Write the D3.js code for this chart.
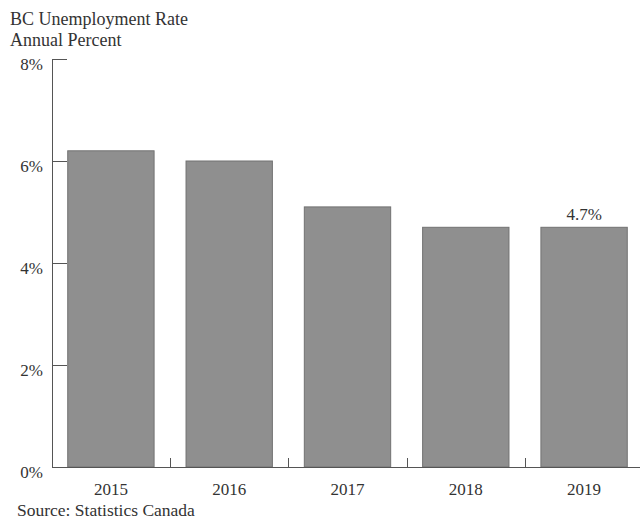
<!DOCTYPE html>
<html>
<head>
<meta charset="utf-8">
<script src="https://cdn.jsdelivr.net/npm/d3@7"></script>
<style>
  body { margin: 0; background: #fff; }
</style>
</head>
<body>
<div id="chart"></div>
<script>
// data
var years = ["2015", "2016", "2017", "2018", "2019"];
var rates = [6.2, 6.0, 5.1, 4.7, 4.7];
var yTicks = [0, 2, 4, 6, 8];
var labelled = ["2019"];

var W = 640, H = 519;
var FONT = "'Liberation Serif', 'Times New Roman', 'DejaVu Serif', serif";

var svg = d3.select("#chart").append("svg")
    .attr("width", W)
    .attr("height", H)
    .attr("font-family", FONT)
    .style("font-family", FONT);

var x = d3.scaleBand()
    .domain(years)
    .range([52, 643])
    .paddingInner(0.27)
    .paddingOuter(0.133);

var y = d3.scaleLinear()
    .domain([0, 8])
    .range([467, 59]);

function label(sel) {
    return sel.attr("font-family", FONT).style("font-family", FONT).attr("fill", "#333");
}

// title
label(svg.append("text")).attr("x", 10).attr("y", 25)
    .style("font-size", "18px").text("BC Unemployment Rate");
label(svg.append("text")).attr("x", 10).attr("y", 46)
    .style("font-size", "18px").text("Annual Percent");

// bars
var data = years.map(function (d, i) { return { year: d, v: rates[i] }; });
svg.selectAll("rect.bar").data(data).enter().append("rect")
    .attr("class", "bar")
    .attr("x", function (d) { return x(d.year); })
    .attr("y", function (d) { return y(d.v); })
    .attr("width", x.bandwidth())
    .attr("height", function (d) { return y(0) - y(d.v); })
    .attr("fill", "#8f8f8f")
    .attr("stroke", "#727272")
    .attr("stroke-width", 1);

// value label
label(svg.selectAll("text.val").data(data.filter(function (d) { return labelled.indexOf(d.year) >= 0; }))
    .enter().append("text"))
    .attr("class", "val")
    .attr("x", function (d) { return x(d.year) + x.bandwidth() / 2; })
    .attr("y", function (d) { return y(d.v) - 7; })
    .attr("text-anchor", "middle")
    .style("font-size", "17px")
    .text(function (d) { return d.v.toFixed(1) + "%"; });

// y axis: ticks point inward, labels sit a bit below the tick
var yAxis = d3.axisRight(y)
    .tickValues(yTicks)
    .tickSize(15)
    .tickFormat("");
var gy = svg.append("g").attr("transform", "translate(52,0)").call(yAxis);
gy.select(".domain").remove();
gy.selectAll("line").attr("stroke", "#555");
svg.append("line")
    .attr("x1", 52.5).attr("x2", 52.5)
    .attr("y1", y(8)).attr("y2", y(0))
    .attr("stroke", "#555");

label(svg.selectAll("text.ylab").data(yTicks).enter().append("text"))
    .attr("class", "ylab")
    .attr("x", 43)
    .attr("y", function (d) { return y(d) + 11; })
    .attr("text-anchor", "end")
    .style("font-size", "17px")
    .text(function (d) { return d + "%"; });

// x axis baseline with small ticks between bars
svg.append("line")
    .attr("x1", 52).attr("x2", W)
    .attr("y1", y(0) + 0.5).attr("y2", y(0) + 0.5)
    .attr("stroke", "#555");

var step = x.step();
svg.selectAll("line.xt").data(years.slice(1)).enter().append("line")
    .attr("class", "xt")
    .attr("x1", function (d) { return Math.round(x(d) - step * x.paddingInner() / 2) + 0.5; })
    .attr("x2", function (d) { return Math.round(x(d) - step * x.paddingInner() / 2) + 0.5; })
    .attr("y1", y(0))
    .attr("y2", y(0) - 9)
    .attr("stroke", "#555");

label(svg.selectAll("text.xlab").data(years).enter().append("text"))
    .attr("class", "xlab")
    .attr("x", function (d) { return x(d) + x.bandwidth() / 2; })
    .attr("y", 495)
    .attr("text-anchor", "middle")
    .style("font-size", "17px")
    .text(function (d) { return d; });

// source
label(svg.append("text")).attr("x", 17).attr("y", 516)
    .style("font-size", "17.5px").text("Source: Statistics Canada");
</script>
</body>
</html>
